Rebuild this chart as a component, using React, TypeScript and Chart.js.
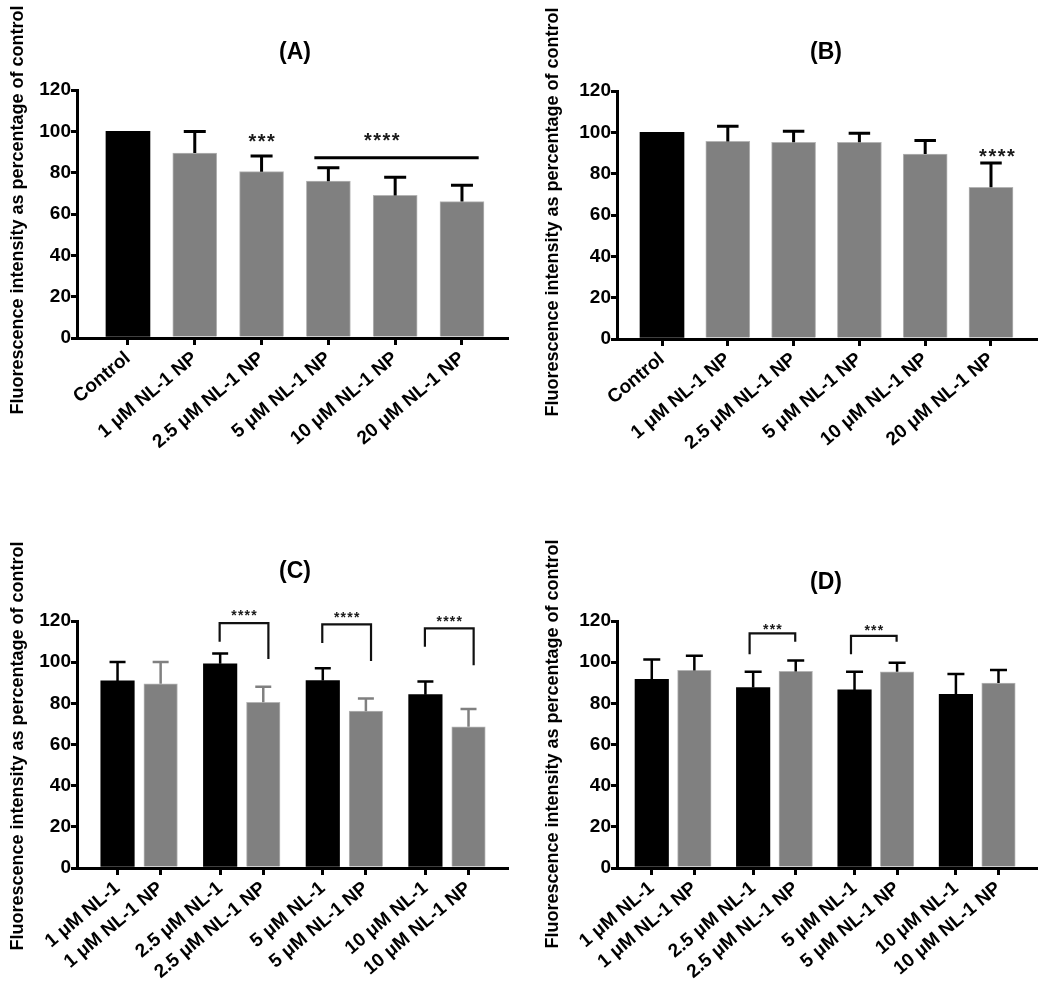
import React, { useEffect, useRef } from 'react';
import { Chart, registerables } from 'chart.js';

Chart.register(...registerables);

const FONT = '"Liberation Sans", Arial, Helvetica, sans-serif';

// ---------------- data ----------------
const treatmentLabels = ['Control', '1 μM NL-1 NP', '2.5 μM NL-1 NP', '5 μM NL-1 NP', '10 μM NL-1 NP', '20 μM NL-1 NP'];
const meanA = [100, 89.5, 80.5, 75.9, 69.0, 66.0];
const sdA = [0, 10.4, 7.6, 6.5, 8.8, 7.9];
const meanB = [100, 95.6, 95.2, 95.2, 89.5, 73.4];
const sdB = [0, 7.3, 5.3, 4.3, 6.5, 11.8];

const pairLabels = ['1 μM NL-1', '1 μM NL-1 NP', '2.5 μM NL-1', '2.5 μM NL-1 NP', '5 μM NL-1', '5 μM NL-1 NP', '10 μM NL-1', '10 μM NL-1 NP'];
const nl1MeanC = [90.9, 99.2, 91.1, 84.2];
const nl1SdC = [9.2, 5.0, 6.0, 6.4];
const npMeanC = [89.5, 80.5, 76.2, 68.6];
const npSdC = [10.6, 7.6, 6.2, 8.6];
const nl1MeanD = [91.7, 87.7, 86.5, 84.4];
const nl1SdD = [9.6, 7.6, 8.8, 9.9];
const npMeanD = [96.0, 95.5, 95.3, 89.9];
const npSdD = [7.1, 5.3, 4.4, 6.3];

const yAxisTitle = 'Fluorescence intensity as percentage of control';
const panelTitles = ['(A)', '(B)', '(C)', '(D)'];

// significance annotations (data units)
const starsA = [{ x: 2, y: 97.4, text: '***' }, { x: 3.8, y: 97.9, text: '****' }];
const lineA = [{ from: 2.79, to: 5.25, y: 87.2 }];
const starsB = [{ x: 5.09, y: 90.8, text: '****' }];
const bracketsC = [
  { group: 1, top: 119.0, leftEnd: 109.9, rightEnd: 101.5, text: '****', textY: 124.6 },
  { group: 2, top: 118.4, leftEnd: 109.3, rightEnd: 100.6, text: '****', textY: 123.4 },
  { group: 3, top: 116.4, leftEnd: 107.5, rightEnd: 98.5, text: '****', textY: 121.6 },
];
const bracketsD = [
  { group: 1, top: 114.0, leftEnd: 103.9, rightEnd: 109.9, text: '***', textY: 117.6 },
  { group: 2, top: 112.8, leftEnd: 103.9, rightEnd: 109.9, text: '***', textY: 117.3 },
];

// ---------------- styles ----------------
const BLACK = '#000000';
const GRAY = '#808080';
const GRAY_EDGE = '#b4b4b4';
const PAIR_OFFSET = 0.21;

function drawStars(ctx: CanvasRenderingContext2D, text: string, cx: number, cy: number, size: number, spacing: number) {
  ctx.save();
  ctx.fillStyle = '#1a1a1a';
  ctx.font = `bold ${size}px ${FONT}`;
  (ctx as any).letterSpacing = `${spacing}px`;
  ctx.textAlign = 'center';
  ctx.textBaseline = 'alphabetic';
  ctx.fillText(text, cx + spacing / 2, cy + 0.57 * size);
  ctx.restore();
}

const errorBarPlugin = {
  id: 'errorBars',
  afterDatasetsDraw(chart: any) {
    const ctx = chart.ctx;
    const ys = chart.scales.y;
    chart.data.datasets.forEach((ds: any, di: number) => {
      const meta = chart.getDatasetMeta(di);
      if (!ds.errors) return;
      meta.data.forEach((el: any, i: number) => {
        const e = ds.errors[i];
        if (!e) return;
        const v = ds.data[i].y;
        const yTop = ys.getPixelForValue(v + e);
        ctx.save();
        ctx.strokeStyle = ds.errColor;
        ctx.lineWidth = ds.errLineWidth;
        ctx.beginPath();
        ctx.moveTo(el.x, el.y);
        ctx.lineTo(el.x, yTop);
        ctx.moveTo(el.x - ds.capWidth / 2, yTop);
        ctx.lineTo(el.x + ds.capWidth / 2, yTop);
        ctx.stroke();
        ctx.restore();
      });
    });
  },
};

type PanelSpec = {
  left: number; top: number; width: number; height: number;
  padLeft: number; padRight: number; padTop: number; yWidth: number; xHeight: number;
  xMin: number; xMax: number;
  tickValues: number[]; tickLabels: string[];
  datasets: any[];
  barWidth: number;
  title: string; titleX: number; titleY: number;
  axisTitleX: number; axisTitleY: number;
  annotate: (ctx: CanvasRenderingContext2D, xs: any, ys: any) => void;
};

function singleSeries(means: number[], sds: number[], capWidth: number) {
  return [{
    data: means.map((m, i) => ({ x: i, y: m })),
    backgroundColor: means.map((_, i) => (i === 0 ? BLACK : GRAY)),
    borderColor: means.map((_, i) => (i === 0 ? BLACK : GRAY_EDGE)),
    borderWidth: means.map((_, i) => (i === 0 ? 0 : 1)),
    errors: sds, errColor: BLACK, errLineWidth: 3, capWidth,
  }];
}

function pairedSeries(m1: number[], s1: number[], m2: number[], s2: number[], capWidth: number, npErrColor: string) {
  return [
    {
      data: m1.map((m, i) => ({ x: i - PAIR_OFFSET, y: m })),
      backgroundColor: BLACK, borderWidth: 0,
      errors: s1, errColor: BLACK, errLineWidth: 2.5, capWidth,
    },
    {
      data: m2.map((m, i) => ({ x: i + PAIR_OFFSET, y: m })),
      backgroundColor: GRAY, borderColor: GRAY_EDGE, borderWidth: 1,
      errors: s2, errColor: npErrColor, errLineWidth: 2.5, capWidth,
    },
  ];
}

function pairTicks(n: number) {
  const t: number[] = [];
  for (let i = 0; i < n; i++) { t.push(i - PAIR_OFFSET, i + PAIR_OFFSET); }
  return t;
}

function drawBrackets(ctx: CanvasRenderingContext2D, xs: any, ys: any, list: any[], lo: number, ro: number) {
  list.forEach((b) => {
    const xl = xs.getPixelForValue(b.group + lo);
    const xr = xs.getPixelForValue(b.group + ro);
    const yt = ys.getPixelForValue(b.top);
    ctx.save();
    ctx.strokeStyle = '#111';
    ctx.lineWidth = 2.2;
    ctx.lineJoin = 'miter';
    ctx.beginPath();
    ctx.moveTo(xl, ys.getPixelForValue(b.leftEnd));
    ctx.lineTo(xl, yt);
    ctx.lineTo(xr, yt);
    ctx.lineTo(xr, ys.getPixelForValue(b.rightEnd));
    ctx.stroke();
    ctx.restore();
    drawStars(ctx, b.text, (xl + xr) / 2, ys.getPixelForValue(b.textY), 14, 1.2);
  });
}

const panels: PanelSpec[] = [
  {
    left: 0, top: 0, width: 525, height: 497,
    padLeft: 20, padRight: 18, padTop: 90, yWidth: 57, xHeight: 159,
    xMin: -0.763, xMax: 5.674,
    tickValues: treatmentLabels.map((_, i) => i), tickLabels: treatmentLabels,
    datasets: singleSeries(meanA, sdA, 22), barWidth: 44,
    title: panelTitles[0], titleX: 295, titleY: 53, axisTitleX: 18, axisTitleY: 210,
    annotate: (ctx, xs, ys) => {
      starsA.forEach((s) => drawStars(ctx, s.text, xs.getPixelForValue(s.x), ys.getPixelForValue(s.y), 20, 1.5));
      lineA.forEach((l) => {
        ctx.save();
        ctx.strokeStyle = '#000';
        ctx.lineWidth = 3;
        ctx.beginPath();
        ctx.moveTo(xs.getPixelForValue(l.from), ys.getPixelForValue(l.y));
        ctx.lineTo(xs.getPixelForValue(l.to), ys.getPixelForValue(l.y));
        ctx.stroke();
        ctx.restore();
      });
    },
  },
  {
    left: 525, top: 0, width: 525, height: 497,
    padLeft: 35, padRight: 14, padTop: 91, yWidth: 57, xHeight: 158,
    xMin: -0.684, xMax: 5.684,
    tickValues: treatmentLabels.map((_, i) => i), tickLabels: treatmentLabels,
    datasets: singleSeries(meanB, sdB, 21.5), barWidth: 44,
    title: panelTitles[1], titleX: 301, titleY: 53, axisTitleX: 28, axisTitleY: 212,
    annotate: (ctx, xs, ys) => {
      starsB.forEach((s) => drawStars(ctx, s.text, xs.getPixelForValue(s.x), ys.getPixelForValue(s.y), 20, 1.5));
    },
  },
  {
    left: 0, top: 497, width: 525, height: 497,
    padLeft: 20, padRight: 18, padTop: 124, yWidth: 57, xHeight: 126,
    xMin: -0.605, xMax: 3.585,
    tickValues: pairTicks(4), tickLabels: pairLabels,
    datasets: pairedSeries(nl1MeanC, nl1SdC, npMeanC, npSdC, 16, GRAY), barWidth: 33.5,
    title: panelTitles[2], titleX: 295, titleY: 75, axisTitleX: 18, axisTitleY: 249,
    annotate: (ctx, xs, ys) => drawBrackets(ctx, xs, ys, bracketsC, -0.215, 0.26),
  },
  {
    left: 525, top: 497, width: 525, height: 497,
    padLeft: 35, padRight: 14, padTop: 124, yWidth: 57, xHeight: 126,
    xMin: -0.553, xMax: 3.58,
    tickValues: pairTicks(4), tickLabels: pairLabels,
    datasets: pairedSeries(nl1MeanD, nl1SdD, npMeanD, npSdD, 17, BLACK), barWidth: 33.5,
    title: panelTitles[3], titleX: 301, titleY: 86, axisTitleX: 28, axisTitleY: 247,
    annotate: (ctx, xs, ys) => drawBrackets(ctx, xs, ys, bracketsD, -0.245, 0.205),
  },
];

function makeConfig(p: PanelSpec): any {
  const axisFont = { family: FONT, size: 19, weight: 'bold' as const };
  const textPlugin = {
    id: 'panelText',
    afterDraw(chart: any) {
      const ctx = chart.ctx as CanvasRenderingContext2D;
      p.annotate(ctx, chart.scales.x, chart.scales.y);
      ctx.save();
      ctx.fillStyle = '#000';
      ctx.font = `bold 23px ${FONT}`;
      ctx.textAlign = 'center';
      ctx.textBaseline = 'middle';
      ctx.fillText(p.title, p.titleX, p.titleY);
      ctx.translate(p.axisTitleX, p.axisTitleY);
      ctx.rotate(-Math.PI / 2);
      ctx.font = `bold 18px ${FONT}`;
      ctx.fillText(yAxisTitle, 0, 0);
      ctx.restore();
    },
  };
  return {
    type: 'bar',
    data: {
      datasets: p.datasets.map((d) => ({ ...d, barThickness: p.barWidth, grouped: false })),
    },
    options: {
      animation: false,
      responsive: false,
      maintainAspectRatio: false,
      events: [],
      layout: { padding: { left: p.padLeft, right: p.padRight, top: p.padTop, bottom: 0 } },
      plugins: { legend: { display: false }, tooltip: { enabled: false }, title: { display: false } },
      scales: {
        x: {
          type: 'linear',
          min: p.xMin,
          max: p.xMax,
          offset: false,
          z: 1,
          afterBuildTicks: (s: any) => { s.ticks = p.tickValues.map((v) => ({ value: v })); },
          afterFit: (s: any) => { s.height = p.xHeight; },
          grid: { display: true, offset: false, drawOnChartArea: false, drawTicks: true, tickLength: 7, tickWidth: 3, color: '#000', lineWidth: 3 },
          border: { display: true, color: '#000', width: 3 },
          ticks: {
            autoSkip: false,
            minRotation: 40,
            maxRotation: 40,
            padding: 2,
            color: '#000',
            font: axisFont,
            callback: (_v: any, i: number) => p.tickLabels[i],
          },
        },
        y: {
          type: 'linear',
          min: 0,
          max: 120,
          z: 1,
          afterFit: (s: any) => { s.width = p.yWidth; },
          grid: { display: true, drawOnChartArea: false, drawTicks: true, tickLength: 6, tickWidth: 3, color: '#000', lineWidth: 3 },
          border: { display: true, color: '#000', width: 3 },
          ticks: { stepSize: 20, padding: 0, color: '#000', font: axisFont },
        },
      },
    },
    plugins: [errorBarPlugin, textPlugin],
  };
}

function Panel({ spec }: { spec: PanelSpec }) {
  const ref = useRef<HTMLCanvasElement | null>(null);
  useEffect(() => {
    if (!ref.current) return;
    const chart = new Chart(ref.current, makeConfig(spec));
    return () => chart.destroy();
  }, [spec]);
  return (
    <canvas
      ref={ref}
      width={spec.width}
      height={spec.height}
      style={{ position: 'absolute', left: spec.left, top: spec.top, width: spec.width, height: spec.height }}
    />
  );
}

export default function App() {
  return (
    <div style={{ position: 'absolute', left: 0, top: 0, width: 1050, height: 994, background: '#fff', overflow: 'hidden' }}>
      {panels.map((p, i) => (
        <Panel key={i} spec={p} />
      ))}
    </div>
  );
}
